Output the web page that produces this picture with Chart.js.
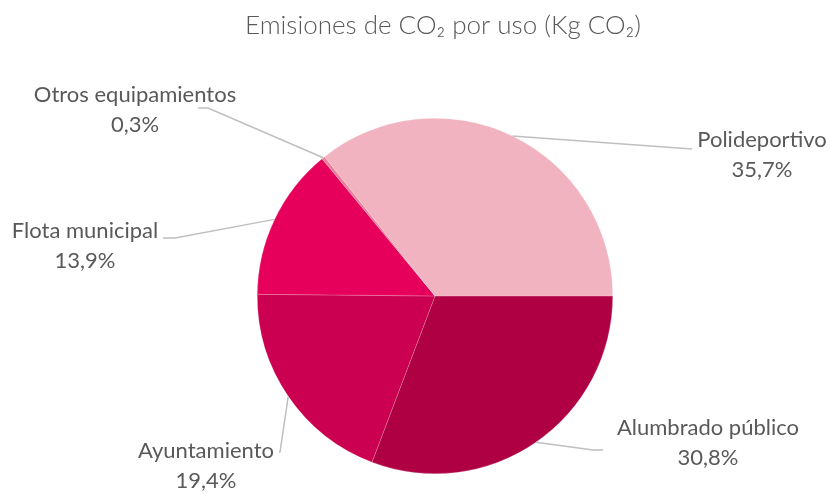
<!DOCTYPE html>
<html>
<head>
<meta charset="utf-8">
<script src="https://cdn.jsdelivr.net/npm/chart.js@4"></script>
<style>
html,body{margin:0;padding:0;background:#fff;}
#wrap{width:830px;height:494px;position:relative;}
</style>
</head>
<body>
<div id="wrap"><canvas id="c" width="830" height="494"></canvas></div>
<script>
const categories = ["Alumbrado público", "Ayuntamiento", "Flota municipal", "Otros equipamientos", "Polideportivo"];
const shares = [30.8, 19.4, 13.9, 0.3, 35.7];
const colors = ["#AF0043", "#CC0050", "#E6005C", "#EC7F99", "#F2B3C0"];
const titleText = "Emisiones de CO₂ por uso (Kg CO₂)";

// label layout: text centre, elbow point, end point of leader line
const labelLayout = [
  {tx: 708, ty: 428, elbow: [593, 450], end: [603, 450]},
  {tx: 206, ty: 451, elbow: [280, 452], end: [279, 452]},
  {tx: 85,  ty: 231, elbow: [175, 238], end: [163, 238]},
  {tx: 135, ty: 95,  elbow: [208, 108], end: [198, 108]},
  {tx: 762, ty: 140, elbow: [692, 149], end: [692, 149]}
];

const labelPlugin = {
  id: 'pieLabels',
  afterDraw(chart) {
    const ctx = chart.ctx;
    const meta = chart.getDatasetMeta(0);
    ctx.save();
    ctx.fillStyle = '#595959';
    ctx.font = '300 26px Lato';
    ctx.textAlign = 'center';
    ctx.textBaseline = 'middle';
    ctx.fillText(titleText, 443, 26);
    meta.data.forEach((arc, i) => {
      const p = arc.getProps(['x','y','startAngle','endAngle','outerRadius'], true);
      const mid = (p.startAngle + p.endAngle) / 2;
      const ex = p.x + Math.cos(mid) * p.outerRadius;
      const ey = p.y + Math.sin(mid) * p.outerRadius;
      const L = labelLayout[i];
      ctx.strokeStyle = '#BFBFBF';
      ctx.lineWidth = 1.5;
      ctx.beginPath();
      ctx.moveTo(ex, ey);
      ctx.lineTo(L.elbow[0], L.elbow[1]);
      ctx.lineTo(L.end[0], L.end[1]);
      ctx.stroke();
      ctx.fillStyle = '#595959';
      ctx.font = '22px Lato';
      ctx.textAlign = 'center';
      ctx.textBaseline = 'middle';
      ctx.fillText(chart.data.labels[i], L.tx, L.ty);
      const v = chart.data.datasets[0].data[i];
      ctx.fillText(v.toFixed(1).replace('.', ',') + '%', L.tx, L.ty + 30);
    });
    ctx.restore();
  }
};

new Chart(document.getElementById('c'), {
  type: 'pie',
  data: {
    labels: categories,
    datasets: [{
      data: shares,
      backgroundColor: colors,
      borderColor: 'rgba(255,255,255,0.35)',
      borderWidth: 0.5
    }]
  },
  options: {
    responsive: false,
    animation: false,
    rotation: 90,
    layout: {padding: {top: 118, bottom: 20, left: 257, right: 217}},
    plugins: {
      legend: {display: false},
      title: {display: false},
      tooltip: {enabled: false}
    }
  },
  plugins: [labelPlugin]
});
</script>
</body>
</html>
